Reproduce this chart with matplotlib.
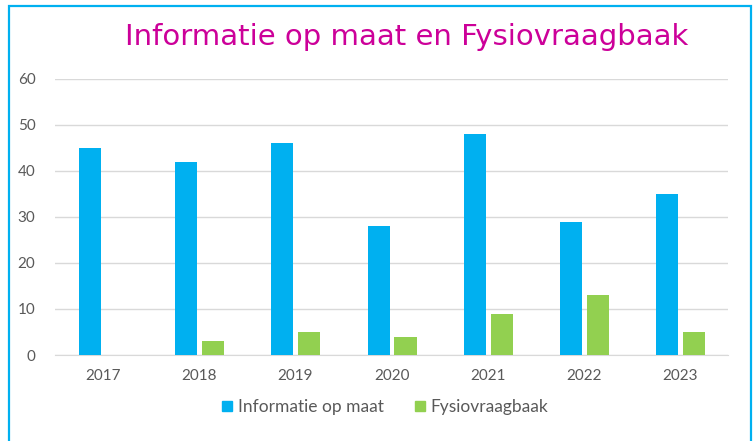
import numpy as np
import matplotlib.pyplot as plt
from matplotlib.patches import Rectangle, Patch

years = ['2017', '2018', '2019', '2020', '2021', '2022', '2023']
info_op_maat = [45, 42, 46, 28, 48, 29, 35]
fysiovraagbaak = [0, 3, 5, 4, 9, 13, 5]

blue = '#00B0F0'
green = '#92D050'
grey = '#595959'

fig = plt.figure(figsize=(7.53, 4.41), dpi=100)
ax = fig.add_axes([0.073, 0.195, 0.894, 0.626])

x = np.arange(len(years))
w = 0.23
ax.bar(x - 0.135, info_op_maat, w, color=blue, zorder=3)
ax.bar(x + 0.145, fysiovraagbaak, w, color=green, zorder=3)

ax.set_xlim(-0.5, len(years) - 0.5)
ax.set_ylim(0, 60)
ax.set_yticks(range(0, 61, 10))
ax.set_xticks(x)
ax.set_xticklabels(years)
ax.yaxis.grid(True, color='#D9D9D9', lw=1, zorder=0)
for s in ax.spines.values():
    s.set_visible(False)
ax.spines['bottom'].set_visible(True)
ax.spines['bottom'].set_color('#D9D9D9')
ax.tick_params(length=0, labelsize=11, labelcolor=grey, pad=10)
ax.tick_params(axis='y', pad=14)
for lab in ax.get_xticklabels() + ax.get_yticklabels():
    lab.set_family('Lato')

fig.text(0.54, 0.916, 'Informatie op maat en Fysiovraagbaak', ha='center', va='center',
         fontsize=21, color='#CC0099')

handles = [Patch(color=blue, label='Informatie op maat'),
           Patch(color=green, label='Fysiovraagbaak')]
fig.legend(handles=handles, loc='center', bbox_to_anchor=(0.512, 0.077), ncol=2, frameon=False,
           prop={'family': 'Lato', 'size': 12.5}, labelcolor=grey, handlelength=0.55,
           handleheight=0.55, handletextpad=0.35, columnspacing=1.8)

fig.patches.append(Rectangle((0.012, -0.01), 0.985, 0.997, transform=fig.transFigure,
                             fill=False, edgecolor=blue, lw=1.6))

fig.savefig('out.png', dpi=100)
